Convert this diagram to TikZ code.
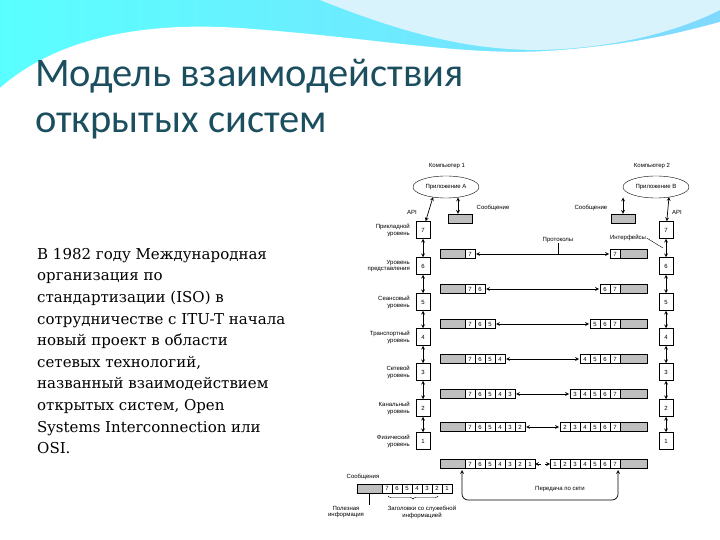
\documentclass[tikz,border=0pt]{standalone}
\usepackage{fontspec}
\setmainfont{DejaVu Serif}
\newfontfamily\titlefont{Carlito}
\newfontfamily\dfont{Liberation Sans}
\usetikzlibrary{arrows.meta,decorations.pathreplacing,shapes.geometric}
\definecolor{titlec}{HTML}{1B4E5F}
\tikzset{
 hat/.style={draw=black,line width=0.4pt,fill=gray!50},
 cell/.style={draw=black,line width=0.4pt,fill=white},
 lay/.style={draw=black,line width=0.5pt,fill=white,minimum width=14pt,minimum height=17pt,inner sep=0pt,font=\dfont\fontsize{6}{6.5}\selectfont},
 lbl/.style={font=\dfont\fontsize{6}{6.8}\selectfont,align=right,anchor=east,inner sep=0pt},
 sm/.style={font=\dfont\fontsize{6}{6.8}\selectfont,inner sep=0.5pt},
 darr/.style={stealth-stealth,line width=0.7pt},
 sarr/.style={-stealth,line width=0.7pt},
}
\newcommand\pktL[4]{% name, y, n, list
 \draw[hat] (440,#2-4.5) rectangle (465,#2+4.5);
 \foreach \l [count=\i] in {#4}{\draw[cell] (455+10*\i,#2-4.5) rectangle (465+10*\i,#2+4.5); \node[sm] at (460+10*\i,#2) {\l};}
 \coordinate (#1) at (465+10*#3,#2);}
\newcommand\pktR[4]{% name, y, n, list ascending
 \draw[hat] (620,#2-4.5) rectangle (647,#2+4.5);
 \foreach \l [count=\i] in {#4}{\draw[cell] (610-10*#3+10*\i,#2-4.5) rectangle (620-10*#3+10*\i,#2+4.5); \node[sm] at (615-10*#3+10*\i,#2) {\l};}
 \coordinate (#1) at (620-10*#3,#2);}
\begin{document}
\begin{tikzpicture}[x=1pt,y=-1pt]
\useasboundingbox (0,0) rectangle (720,540);
% background
\fill[left color=cyan!65!white,right color=blue!30!cyan!50!white] (0,0) rectangle (720,140);
\fill[cyan!15!white] (320,0) .. controls (420,40) and (480,50) .. (540,50) .. controls (620,48) and (680,30) .. (720,10) -- (720,0) -- cycle;
\fill[white] (0,540) -- (0,88) .. controls (60,35) and (150,22) .. (240,28) .. controls (380,38) and (470,58) .. (560,50) .. controls (640,44) and (690,30) .. (720,22) -- (720,540) -- cycle;
% title
\node[anchor=base west,inner sep=0,text=titlec,font=\titlefont\fontsize{40.5}{44}\selectfont] (t1) at (35,87) {Модель взаимодействия};
\node[anchor=base west,inner sep=0,text=titlec,font=\titlefont\fontsize{40.5}{44}\selectfont] (t2) at (35,133) {открытых систем};
% body
\node[anchor=north west,inner sep=0,align=left,font=\fontsize{15}{21.6}\selectfont] (body) at (37,248) {В 1982 году Международная\\организация по\\стандартизации (ISO) в\\сотрудничестве с ITU-T начала\\новый проект в области\\сетевых технологий,\\названный взаимодействием\\открытых систем, Open\\Systems Interconnection или\\OSI.};
% ellipses
\node[draw,ellipse,minimum width=66pt,minimum height=22pt,inner sep=0,font=\dfont\fontsize{6}{6.5}\selectfont] (eA) at (446,187) {Приложение А};
\node[draw,ellipse,minimum width=66pt,minimum height=22pt,inner sep=0,font=\dfont\fontsize{6}{6.5}\selectfont] (eB) at (656,187) {Приложение В};
\node[sm] (c1) at (447,166) {Компьютер 1};
\node[sm] (c2) at (652,166) {Компьютер 2};
% layers
\foreach \n/\y/\ta/\tb in {7/230/Прикладной/уровень,6/266/Уровень/представления,5/302/Сеансовый/уровень,4/337/Транспортный/уровень,3/372/Сетевой/уровень,2/408/Канальный/уровень,1/441/Физический/уровень}{
 \node[lay] (L\n) at (423,\y) {\n};
 \node[lay] (R\n) at (666,\y) {\n};
 \node[lbl] (lab\n) at (410,\y) {\ta\\\tb};
}
\draw[darr] (L7) -- (L6); \draw[darr] (L6) -- (L5); \draw[darr] (L5) -- (L4);
\draw[darr] (L4) -- (L3); \draw[darr] (L3) -- (L2); \draw[darr] (L2) -- (L1);
\draw[darr] (R7) -- (R6); \draw[darr] (R6) -- (R5); \draw[darr] (R5) -- (R4);
\draw[darr] (R4) -- (R3); \draw[darr] (R3) -- (R2); \draw[darr] (R2) -- (R1);
\node[sm] (apiL) at (412,212) {API};
\node[sm] (apiR) at (677,212) {API};
\coordinate (ea1) at (433,197); \coordinate (eb1) at (669,197);
\draw[darr] (ea1) -- (L7);
\draw[darr] (eb1) -- (R7);
% messages
\node[hat,minimum width=24pt,minimum height=9pt,inner sep=0] (mA) at (460,218.5) {};
\node[hat,minimum width=24pt,minimum height=9pt,inner sep=0] (mB) at (623,218.5) {};
\coordinate (ma1) at (458,197.5); \coordinate (mb1) at (623,197.5);
\draw[darr] (ma1) -- (ma1 |- mA.north);
\draw[darr] (mb1) -- (mB.north);
\node[sm,anchor=west] (sA) at (476,208) {Сообщение};
\node[sm,anchor=east] (sB) at (608,208) {Сообщение};
% packets
\pktL{a7}{254}{1}{7} \pktR{b7}{254}{1}{7}
\pktL{a6}{289}{2}{7,6} \pktR{b6}{289}{2}{6,7}
\pktL{a5}{324}{3}{7,6,5} \pktR{b5}{324}{3}{5,6,7}
\pktL{a4}{359}{4}{7,6,5,4} \pktR{b4}{359}{4}{4,5,6,7}
\pktL{a3}{394}{5}{7,6,5,4,3} \pktR{b3}{394}{5}{3,4,5,6,7}
\pktL{a2}{427}{6}{7,6,5,4,3,2} \pktR{b2}{427}{6}{2,3,4,5,6,7}
\pktL{a1}{464}{7}{7,6,5,4,3,2,1} \pktR{b1}{464}{7}{1,2,3,4,5,6,7}
\foreach \r in {7,6,5,4,3,2}{\draw[darr] ([xshift=1pt]a\r) -- ([xshift=-1pt]b\r);}
\coordinate (mid1) at (541,464); \coordinate (mid2) at (545,464);
\draw[sarr] (mid1) -- (a1);
\draw[sarr] (mid2) -- (b1);
% labels
\node[sm] (prot) at (558,240) {Протоколы};
\draw[line width=0.4pt] (prot.south) -- (prot.south |- a7);
\node[sm] (intf) at (628,238) {Интерфейсы};
\coordinate (ip) at (663,248);
\draw[line width=0.4pt] (intf.east) -- (ip);
% network transfer
\coordinate (n1) at (462,470); \coordinate (n2) at (618,470);
\draw[darr,rounded corners=6pt] (n1) -- (462,500) -- (618,500) -- (n2);
\node[sm] (net) at (560,489) {Передача по сети};
% bottom-left message
\node[sm,anchor=west] (msgs) at (346,477) {Сообщения};
\draw[hat] (357,484) rectangle (382,493);
\foreach \l [count=\i] in {7,6,5,4,3,2,1}{\draw[cell] (372+10*\i,484) rectangle (382+10*\i,493); \node[sm] at (377+10*\i,488.5) {\l};}
\draw[decorate,decoration={brace,mirror,amplitude=3pt},line width=0.4pt] (388,496) -- (438,496);
\coordinate (pu) at (369,493);
\node[sm,align=center] (useful) at (346,512) {Полезная\\информация};
\draw[line width=0.4pt] (pu) -- (useful.north -| pu);
\node[sm,align=center] (hdr) at (422,512) {Заголовки со служебной\\информацией};
\end{tikzpicture}
\end{document}
